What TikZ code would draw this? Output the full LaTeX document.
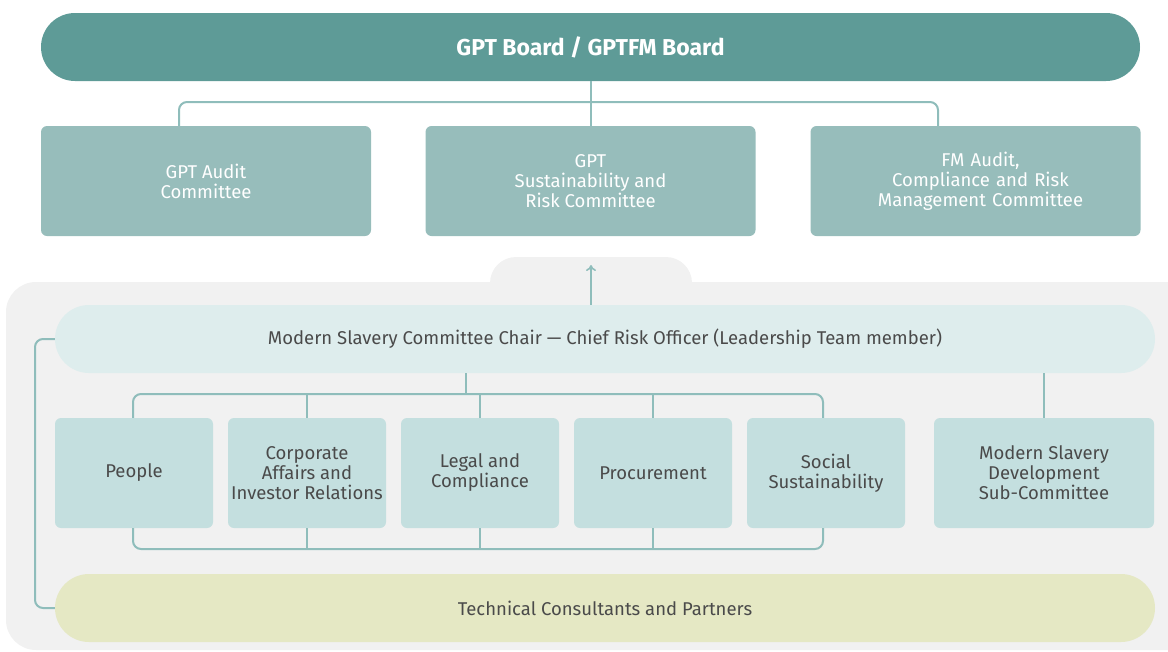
\documentclass[tikz,border=0pt]{standalone}
\usepackage{fontspec}
\setmainfont{Fira Sans}
\usetikzlibrary{calc,arrows.meta}
\definecolor{boardc}{HTML}{5E9B97}
\definecolor{commc}{HTML}{97BDBB}
\definecolor{panelc}{HTML}{F1F1F1}
\definecolor{chairc}{HTML}{DEEDED}
\definecolor{deptc}{HTML}{C4DFDF}
\definecolor{techc}{HTML}{E5E8C4}
\definecolor{linec}{HTML}{8FBDBB}
\definecolor{txtc}{HTML}{4A4A4A}
\begin{document}
\begin{tikzpicture}[x=1pt,y=-1pt,
  pill/.style={rounded corners=34pt, minimum height=68pt, inner sep=0pt, align=center},
  commbox/.style={fill=commc, rounded corners=6pt, minimum width=330pt, minimum height=110pt, inner sep=0pt, align=center, text=white, font=\fontsize{18.5}{20}\selectfont},
  deptbox/.style={fill=deptc, rounded corners=6pt, minimum width=158pt, minimum height=110pt, inner sep=0pt, align=center, text=txtc, font=\fontsize{18.5}{20}\selectfont},
  conn/.style={draw=linec, line width=2pt, rounded corners=8pt},
]
\useasboundingbox (0,0) rectangle (1168,651);
% background panel
\fill[panelc, rounded corners=30pt] (6,282) rectangle (1200,650);
\fill[panelc, rounded corners=26pt] (490,257) rectangle (692,310);
% board
\node[pill, fill=boardc, minimum width=1099pt, text=white, font=\fontsize{23}{25}\selectfont\bfseries] (board) at (590.5,47) {GPT Board / GPTFM Board};
% committees
\node[commbox] (c1) at (206,181) {GPT Audit\\Committee};
\node[commbox] (c2) at (590.5,181) {GPT\\Sustainability and\\Risk Committee};
\node[commbox, inner xsep=0pt, text width=330pt] (c3) at (975.5,181) {\hspace*{10pt}FM Audit,\\\hspace*{10pt}Compliance and Risk\\\hspace*{10pt}Management Committee};
% chair
\node[pill, fill=chairc, minimum width=1100pt, text=txtc, font=\fontsize{18.5}{20}\selectfont] (chair) at (605,339) {Modern Slavery Committee Chair --- Chief Risk Officer (Leadership Team member)};
% departments
\node[deptbox] (d1) at (134,473) {People};
\node[deptbox] (d2) at (307,473) {Corporate\\Affairs and\\Investor Relations};
\node[deptbox] (d3) at (480,473) {Legal and\\Compliance};
\node[deptbox] (d4) at (653,473) {Procurement};
\node[deptbox] (d5) at (826,473) {Social\\Sustainability};
\node[deptbox, minimum width=220pt] (d6) at (1044,473) {Modern Slavery\\Development\\Sub-Committee};
% technical
\node[pill, fill=techc, minimum width=1100pt, text=txtc, font=\fontsize{18.5}{20}\selectfont] (tech) at (605,608) {Technical Consultants and Partners};
% coordinates
\coordinate (j1) at (591,102);
\coordinate (tabtop) at (591,265);
\coordinate (j2) at (466,394);
\coordinate (j3) at (466,549);
\coordinate (lft) at (35,0);
% board connectors
\draw[conn] (board.south -| j1) -- (j1);
\draw[conn] ([xshift=-27pt]c1.north) |- (j1) -| ([xshift=-37.5pt]c3.north);
\draw[conn] (j1) -- (c2.north -| j1);
% arrow to committee
\draw[draw=linec, line width=1.6pt, -{To[length=6pt,width=10pt]}] (chair.north -| tabtop) -- (tabtop);
% left loop
\draw[conn] (chair.west) -- (lft |- chair.west) |- (tech.west);
% chair to departments
\draw[conn] (chair.south -| j2) -- (j2);
\draw[conn] ([xshift=-1pt]d1.north) |- (j2) -| ([xshift=-3pt]d5.north);
\draw[conn] (d2.north) -- (d2.north |- j2);
\draw[conn] (d3.north) -- (d3.north |- j2);
\draw[conn] (d4.north) -- (d4.north |- j2);
\draw[conn] (chair.south -| d6.north) -- (d6.north);
% bottom bus
\draw[conn] ([xshift=-1pt]d1.south) |- (j3) -| ([xshift=-3pt]d5.south);
\draw[conn] (d2.south) -- (d2.south |- j3);
\draw[conn] (d3.south) -- (d3.south |- j3);
\draw[conn] (d4.south) -- (d4.south |- j3);
\end{tikzpicture}
\end{document}
